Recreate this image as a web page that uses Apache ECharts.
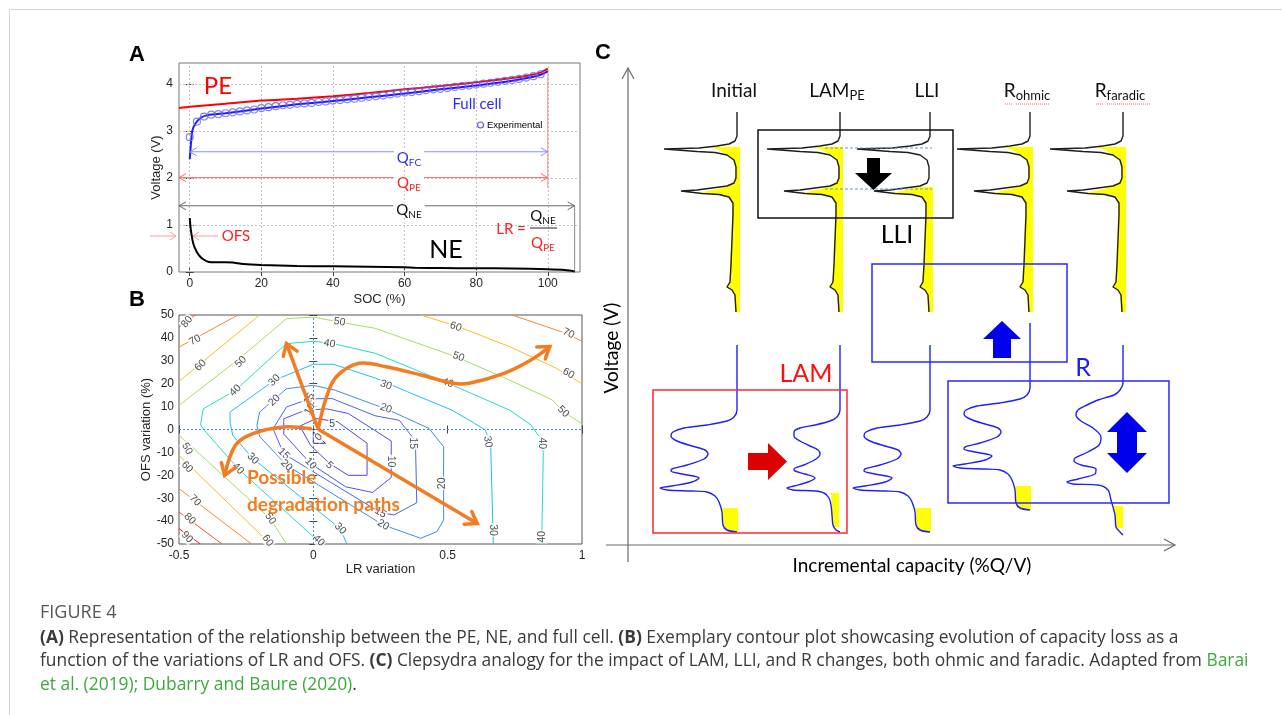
<!DOCTYPE html>
<html><head><meta charset="utf-8">
<script src="https://cdn.jsdelivr.net/npm/echarts@6/dist/echarts.min.js"></script>
<style>html,body{margin:0;padding:0;background:#fff;}#c{width:1282px;height:715px;}</style>
</head><body><div id="c"></div>
<script>
// ================= DATA =================
// ---- Panel A : voltage vs SOC ----
const aXTicks = [0, 20, 40, 60, 80, 100];
const aYTicks = [0, 1, 2, 3, 4];
const peCurve = [[-3,3.49],[0,3.52],[10,3.58],[20,3.65],[30,3.69],[40,3.74],[50,3.81],[60,3.89],[70,3.96],[80,4.04],[90,4.13],[95,4.19],[98,4.25],[100,4.33]];
const fullCell = [[0,2.4],[0.3,2.7],[0.7,3.0],[1.5,3.15],[3,3.28],[5,3.34],[10,3.38],[20,3.48],[30,3.57],[40,3.64],[50,3.72],[60,3.8],[70,3.89],[80,3.97],[90,4.07],[95,4.14],[98,4.2],[100,4.27]];
const expSOC = [0,2,4,6,8,10,12,14,16,18,20,22,24,26,28,30,32,34,36,38,40,42,44,46,48,50,52,54,56,58,60,62,64,66,68,70,72,74,76,78,80,82,84,86,88,90,92,94,96,98];
const expV   = [2.87,3.2,3.31,3.35,3.36,3.38,3.4,3.42,3.44,3.46,3.49,3.51,3.53,3.55,3.56,3.58,3.59,3.6,3.62,3.63,3.65,3.66,3.68,3.69,3.71,3.73,3.74,3.76,3.78,3.8,3.82,3.83,3.85,3.87,3.89,3.9,3.92,3.94,3.96,3.97,3.99,4.01,4.03,4.05,4.07,4.09,4.11,4.14,4.17,4.21];
const neCurve = [[0,1.15],[0.3,0.9],[1,0.6],[2,0.42],[3,0.32],[4,0.26],[5,0.22],[6,0.21],[10,0.21],[12,0.2],[15,0.17],[20,0.15],[30,0.13],[40,0.12],[50,0.11],[60,0.1],[63,0.09],[70,0.085],[80,0.08],[90,0.075],[100,0.06],[104,0.05],[106,0.03],[107.5,0.01]];
const qArrows = [[0,100,2.56],[-3,100,2.01],[-3,107.5,1.41]];   // Q_FC, Q_PE, Q_NE spans (SOC) and level (V)
const pePeakLine = [[100,4.33],[100,1.79]];
const neEndLine = [[107.5,1.41],[107.5,0]];

// ---- Panel B : contour plot ----
const contourLevels = [0,5,10,15,20,30,40,50,50,60,60,60,70,70,70,80,80,90];
const contourLines = [
  [[0,-1],[0,-6],[0.045,-6],[0,-1]],
  [[-0.05,1.5],[0.01,4.8],[0.09,3.4],[0.2,-6],[0.2,-20],[0.13,-20],[0.06,-14.8],[-0.01,-7],[-0.05,1.5]],
  [[-0.11,4.7],[-0.03,8.4],[0.05,9],[0.13,7],[0.29,-5],[0.29,-21],[0.22,-27.5],[0.12,-25],[-0.01,-14.9],[-0.11,-2],[-0.11,4.7]],
  [[-0.15,0.3],[-0.1,9.8],[-0.015,13.4],[0.07,13.5],[0.23,6],[0.32,4],[0.38,-5],[0.385,-32],[0.3,-37.3],[0.25,-36.3],[-0.11,-10.6],[-0.15,0.3]],
  [[-0.21,1.8],[-0.2,7.6],[-0.1,17.8],[0,19.3],[0.08,17.2],[0.23,10.7],[0.28,8.5],[0.43,0.5],[0.485,-7.5],[0.485,-39.5],[0.46,-44.6],[0.4,-47.5],[0.26,-41.7],[-0.1,-15.6],[-0.2,-3],[-0.21,1.8]],
  [[0.125,-50],[0.1,-43.3],[-0.225,-12.7],[-0.3,-2.5],[-0.31,3.3],[-0.31,7.6],[-0.145,21.5],[0,28.5],[0.074,28.5],[0.23,22.5],[0.35,16.5],[0.515,8.5],[0.6,2.7],[0.64,-0.2],[0.66,-6],[0.67,-50]],
  [[0.03,-50],[-0.28,-17.1],[-0.4,-1.1],[-0.42,2],[-0.41,9],[-0.29,17.1],[-0.1,37.5],[0,38.5],[0.07,37.6],[0.23,33.3],[0.5,20.3],[0.73,8.5],[0.81,2],[0.84,-3],[0.856,-10],[0.85,-50]],
  [[-0.5,10.5],[-0.28,30.5],[-0.1,48.4],[0,49.1],[0.093,47],[0.23,44.2],[0.53,31.8],[0.73,21.6],[0.89,12.9],[0.93,7.8],[1,2.5]],
  [[-0.5,-2.5],[-0.16,-38.9],[-0.1,-50]],
  [[-0.5,21],[-0.2,50]],
  [[0.4,50],[0.54,44.9],[0.73,36.2],[0.9,27],[1,20]],
  [[-0.5,-11.3],[-0.16,-50]],
  [[-0.5,36],[-0.28,50]],
  [[0.74,50],[0.94,42],[1,38.5]],
  [[-0.5,-25.8],[-0.23,-50]],
  [[-0.5,44.7],[-0.44,50]],
  [[-0.5,-36],[-0.34,-50]],
  [[-0.5,-43.3],[-0.42,-50]]
];
const contourLabels = [ // [LR, OFS, text, rotation]
  [-0.47,47,'80',50],[-0.44,39,'70',30],[-0.42,28,'60',45],[-0.27,29.5,'50',45],[-0.29,17.1,'40',45],
  [-0.145,21.5,'30',45],[-0.145,12.7,'20',45],[-0.015,13.4,'15',60],[-0.013,9,'10',60],[0.07,2.5,'5',0],
  [0.02,-3.3,'0',45],[0.097,47,'50',-10],[0.06,37.5,'40',-10],
  [-0.47,-8.4,'50',-60],[-0.47,-16.4,'60',-45],[-0.44,-31,'70',-45],[-0.46,-39,'80',-45],[-0.47,-47,'90',-45],
  [-0.225,-12.7,'30',-45],[-0.28,-17.1,'40',-45],[-0.11,-10.6,'15',-45],[-0.1,-15.6,'20',-45],
  [-0.01,-14.9,'10',-45],[0.06,-15.6,'5',-45],[-0.16,-38.9,'50',-55],[-0.17,-48.5,'60',-55],
  [0.1,-43.3,'30',-45],[0.02,-48.5,'40',-45],
  [0.53,44.9,'60',-20],[0.95,42,'70',-25],[0.54,31.8,'50',-20],[0.95,24.5,'60',-30],[0.27,19.4,'30',-20],
  [0.5,20.3,'40',-20],[0.27,9.2,'20',-20],[0.93,7.8,'50',-45],
  [0.37,-6,'15',-90],[0.65,-5.3,'30',-80],[0.85,-6,'40',-90],[0.29,-14,'10',-90],[0.48,-23.5,'20',90],
  [0.67,-43.9,'30',-90],[0.85,-46.8,'40',90],[0.25,-36.3,'15',-30],[0.26,-41.7,'20',-30]
];
const degradationPaths = [
  [[0.015,1],[-0.1,37.5]],
  [[0.02,0],[0.61,-41]],
  [[0.02,1.1],[0.047,13.5],[0.085,22.9],[0.17,28.9],[0.27,27.4],[0.4,23.8],[0.52,20.2],[0.58,20.2],[0.71,24.5],[0.81,30.3],[0.88,36.2]],
  [[-0.01,0.3],[-0.11,1.1],[-0.225,-1.8],[-0.29,-6.9],[-0.33,-20]]
];

// ---- Panel C : clepsydra IC curves  [IC offset from column base, voltage units] ----
const columnNames = ['Initial', 'LAM', 'LLI', 'R', 'R'];
const columnSubs  = ['', 'PE', '', 'ohmic', 'faradic'];
const topCurve = [[0,448],[0,424],[-2,419],[-8,416],[-20,414],[-38,412],[-73,411],[-73,409],[-40,408.5],[-22,407.5],[-10,405],[-3,400],[-1,393],[-1,382],[-3,377],[-10,374],[-25,372],[-40,370],[-56,369],[-56,367],[-35,366.5],[-18,365.5],[-8,363],[-4,357],[-4,345],[-5,320],[-6,295],[-7,278],[-10,273],[-5,270],[-2,265],[-1,248]];
const topYellow = [[-26,413],[-18,410],[-10,405],[-4,400],[-2,393],[-2,382],[-4,377],[-12,373],[-24,370],[-38,367],[-18,365],[-8,362],[-5,356],[-5,345],[-6,320],[-7,295],[-8,278],[-11,273],[-6,270],[-3,265],[-2,248]];
const bottomInitial = [[0,215],[0,150],[-3,143],[-10,139],[-30,135],[-53,132],[-64,128],[-66,124],[-60,119],[-45,114],[-32,110],[-29,106],[-33,101],[-50,95],[-65,91],[-66,89],[-55,86],[-38,82],[-45,78],[-65,74],[-77,72],[-70,70],[-45,69],[-30,68],[-22,64],[-18,58],[-15,48],[-14,35],[-10,30],[0,28]];
const bottomInitialYellow = [[-15,52],[-14,35],[-10,30],[-4,28]];
const bottomLAM = [[0,215],[0,150],[-3,143],[-10,139],[-25,135],[-40,132],[-46,128],[-46,124],[-40,119],[-30,114],[-22,110],[-20,106],[-24,101],[-36,95],[-46,91],[-45,89],[-35,86],[-25,82],[-32,78],[-46,74],[-53,72],[-47,70],[-25,69],[-16,67],[-11,62],[-9,55],[-8,45],[-7,35],[-4,30],[0,28]];
const bottomLAMYellow = [[-9,67],[-8,45],[-7,35],[-5,33]];
const bottomFaradic = [[0,215],[0,177],[-3,170],[-9,165],[-25,160],[-36,155],[-45,150],[-47,145],[-42,139],[-30,132],[-22,123],[-24,115],[-35,108],[-48,102],[-49,99],[-42,95],[-27,91],[-28,86],[-45,81],[-56,78],[-50,76],[-25,75],[-15,70],[-12,60],[-8,45],[-7,33],[-3,28],[0,25]];
const bottomFaradicYellow = [[-10,54],[-8,45],[-7,33],[-5,32]];
const ohmicShift = 22;      // voltage shift of the R_ohmic curve
const lliYellowFrom = 374;  // LLI: shaded area starts below the 2nd peak

// ================= BUILD =================
const FONT = 'Liberation Sans, Arial, sans-serif';
const CAL = 'Lato, "Open Sans", sans-serif';
const colX = [137, 240, 330, 430, 523];

const jet = {0:'#2a1f9a',5:'#5544dd',10:'#5050ee',15:'#4466f2',20:'#3b8cf2',30:'#1ec0f0',40:'#22dccc',50:'#a4e05a',60:'#f2c21e',70:'#f58a2a',80:'#f2561e',90:'#e21e1e'};

const series = [];

// --- A ---
const gridLinesA = aXTicks.map(v => ({xAxis: v})).concat(aYTicks.slice(1).map(v => ({yAxis: v})));
series.push({type:'line', xAxisIndex:0, yAxisIndex:0, data:peCurve, showSymbol:false, smooth:0.2,
  lineStyle:{color:'#ff0000', width:2}, z:3,
  markLine:{silent:true, symbol:'none', label:{show:false}, data:gridLinesA,
    lineStyle:{color:'#c4c4c4', type:[2,2], width:1}, z:1}});
series.push({type:'line', xAxisIndex:0, yAxisIndex:0, data:fullCell, showSymbol:false, smooth:0.2, lineStyle:{color:'#1a1aff', width:2}, z:4});
series.push({type:'scatter', xAxisIndex:0, yAxisIndex:0, data:expSOC.map((s,i)=>[s,expV[i]]), symbol:'circle', symbolSize:7,
  itemStyle:{color:'rgba(255,255,255,0)', borderColor:'#6262ff', borderWidth:1.2}, z:5});
series.push({type:'line', xAxisIndex:0, yAxisIndex:0, data:neCurve, showSymbol:false, smooth:0.2, lineStyle:{color:'#000', width:2}, z:3});
series.push({type:'line', xAxisIndex:0, yAxisIndex:0, data:pePeakLine, showSymbol:false, lineStyle:{color:'#ff8a8a', width:1}, z:2});
series.push({type:'line', xAxisIndex:0, yAxisIndex:0, data:neEndLine, showSymbol:false, lineStyle:{color:'#8a8a8a', width:1}, z:2});
const qColors = ['#8c8cff', '#ff6a6a', '#6a6a6a'];
series.push({type:'custom', xAxisIndex:0, yAxisIndex:0, data:qArrows, z:6, clip:false,
  renderItem:(params, api) => {
    const y = api.value(2);
    const p1 = api.coord([api.value(0), y]), p2 = api.coord([api.value(1), y]);
    const c = qColors[params.dataIndex], w = 7, h = 4;
    return {type:'group', children:[
      {type:'line', shape:{x1:p1[0], y1:p1[1], x2:p2[0], y2:p2[1]}, style:{stroke:c, lineWidth:1}},
      {type:'polyline', shape:{points:[[p1[0]+w,p1[1]-h],[p1[0],p1[1]],[p1[0]+w,p1[1]+h]]}, style:{stroke:c, fill:null, lineWidth:1}},
      {type:'polyline', shape:{points:[[p2[0]-w,p2[1]-h],[p2[0],p2[1]],[p2[0]-w,p2[1]+h]]}, style:{stroke:c, fill:null, lineWidth:1}}
    ]};
  }});

// --- B ---
contourLines.forEach((pts, i) => {
  const s = {type:'line', xAxisIndex:2, yAxisIndex:2, data:pts, showSymbol:false, smooth:false,
    lineStyle:{color:jet[contourLevels[i]], width:1}, z:2, silent:true};
  if (i === 0) {
    s.markLine = {silent:true, symbol:'none', label:{show:false}, data:[{xAxis:0},{yAxis:0}],
      lineStyle:{color:'#3a8ee6', type:[2,2], width:1}};
  }
  series.push(s);
});
series.push({type:'scatter', xAxisIndex:2, yAxisIndex:2, symbolSize:2, itemStyle:{color:'rgba(0,0,0,0)'}, z:4, silent:true,
  data:contourLabels.map(l => ({value:[l[0], l[1]], name:l[2], label:{rotate:l[3]}})),
  label:{show:true, position:'inside', formatter:'{b}', color:'#222', fontSize:10.5, fontFamily:FONT,
    backgroundColor:'#fff', padding:[0,1]},
  labelLayout:{hideOverlap:false}});
series.push({type:'custom', xAxisIndex:2, yAxisIndex:2, data:degradationPaths.map(p => p[0]), z:10, clip:false,
  renderItem:(params, api) => {
    const path = degradationPaths[params.dataIndex].map(p => api.coord(p));
    const n = path.length, a = path[n-2], b = path[n-1];
    const ang = Math.atan2(b[1]-a[1], b[0]-a[0]), L = 13, sp = 0.6;
    const h1 = [b[0]-L*Math.cos(ang-sp), b[1]-L*Math.sin(ang-sp)];
    const h2 = [b[0]-L*Math.cos(ang+sp), b[1]-L*Math.sin(ang+sp)];
    return {type:'group', children:[
      {type:'polyline', shape:{points:path, smooth:n>2 ? 0.35 : 0}, style:{stroke:'#f47b20', lineWidth:3.5, fill:null, lineCap:'round', lineJoin:'round'}},
      {type:'polyline', shape:{points:[h1,b,h2]}, style:{stroke:'#f47b20', lineWidth:3.5, fill:null, lineCap:'round', lineJoin:'miter'}}
    ]};
  }});

// --- C ---
function place(shape, cx, shift) { return shape.map(p => [cx + p[0], p[1] + shift]); }
function yellowPoly(boundary, cx, shift, rightDx) {
  const pts = place(boundary, cx, shift);
  const first = pts[0], last = pts[pts.length-1];
  return pts.concat([[cx + rightDx, last[1]], [cx + rightDx, first[1]]]);
}
const yellowPolys = [];
colX.forEach((cx, i) => {
  const src = i === 2 ? topYellow.filter(p => p[1] <= lliYellowFrom) : topYellow;
  yellowPolys.push(yellowPoly(src, cx, 0, 3));
  series.push({type:'line', xAxisIndex:4, yAxisIndex:4, data:place(topCurve, cx, 0), showSymbol:false,
    lineStyle:{color:'#1e1e1e', width:1.4}, z:5, silent:true});
});
const bottomShapes = [[bottomInitial, bottomInitialYellow, 0, 1],[bottomLAM, bottomLAMYellow, 0, -1],[bottomInitial, bottomInitialYellow, 0, 1],[bottomInitial, bottomInitialYellow, ohmicShift, 1],[bottomFaradic, bottomFaradicYellow, 0, 0]];
bottomShapes.forEach((b, i) => {
  yellowPolys.push(yellowPoly(b[1], colX[i], b[2], b[3]));
  series.push({type:'line', xAxisIndex:4, yAxisIndex:4, data:place(b[0], colX[i], b[2]), showSymbol:false, smooth:0.3,
    lineStyle:{color:'#1f1fff', width:1.4}, z:5, silent:true});
});
series.push({type:'custom', xAxisIndex:4, yAxisIndex:4, data:yellowPolys.map(p => p[0]), z:3, clip:false, silent:true,
  renderItem:(params, api) => ({type:'polygon', shape:{points:yellowPolys[params.dataIndex].map(p => api.coord(p))},
    style:{fill:'#ffff00', stroke:null}})});

// ================= GRAPHIC (annotations) =================
function T(x, y, text, o) {
  return {type:'text', x, y, z:100, silent:true, style:Object.assign({text, fill:'#000', fontSize:14, fontFamily:CAL, align:'center', verticalAlign:'middle'}, o || {})};
}
function L(pts, stroke, w, dash) {
  return {type:'polyline', z:90, silent:true, shape:{points:pts}, style:{stroke, lineWidth:w || 1, fill:null, lineDash:dash || null}};
}
function P(pts, fill) { return {type:'polygon', z:95, silent:true, shape:{points:pts}, style:{fill}}; }
function R(x, y, w, h, stroke, lw) { return {type:'rect', z:92, silent:true, shape:{x, y, width:w, height:h}, style:{fill:null, stroke, lineWidth:lw || 1.5}}; }
function sub(main, s, size, col, extra) {
  return T(0, 0, '{m|' + main + '}{s|' + s + '}', Object.assign({fill:col, rich:{
    m:{fontSize:size, fontFamily:CAL, fill:col},
    s:{fontSize:Math.round(size*0.68), fontFamily:CAL, fill:col, verticalAlign:'bottom', padding:[0,0,-2,0]}}}, extra || {}));
}
function at(el, x, y) { el.x = x; el.y = y; return el; }

const g = [];
g.push({type:'rect', z:-1, silent:true, shape:{x:9.5, y:9.5, width:1400, height:900}, style:{fill:null, stroke:'#d4d4d4', lineWidth:1}});
// panel letters
g.push(T(137, 55, 'A', {fontSize:22, fontWeight:'bold', fontFamily:FONT}));
g.push(T(137, 300, 'B', {fontSize:22, fontWeight:'bold', fontFamily:FONT}));
g.push(T(603, 53, 'C', {fontSize:22, fontWeight:'bold', fontFamily:FONT}));
// panel A annotations
g.push(T(218, 86, 'PE', {fill:'#ff0000', fontSize:24}));
g.push(T(477, 104, 'Full cell', {fill:'#2a2aff', fontSize:15}));
g.push({type:'circle', z:100, silent:true, shape:{cx:480.5, cy:125, r:3}, style:{fill:null, stroke:'#5a5aff', lineWidth:1.2}});
g.push(T(487, 125.5, 'Experimental', {fontSize:9.5, fontFamily:FONT, align:'left'}));
g.push(at(sub('Q', 'FC', 15, '#3030ff', {backgroundColor:'#fff', padding:[0,3]}), 409, 158));
g.push(at(sub('Q', 'PE', 15, '#ff2020', {backgroundColor:'#fff', padding:[0,3]}), 409, 183));
g.push(at(sub('Q', 'NE', 15, '#111', {backgroundColor:'#fff', padding:[0,3]}), 409, 210));
g.push(T(236, 236, 'OFS', {fill:'#ff2020', fontSize:15}));
g.push(L([[150,236],[176,236]], '#ff9a9a', 1)); g.push(L([[170,232],[176,236],[170,240]], '#ff9a9a', 1));
g.push(L([[193,236],[218,236]], '#ff9a9a', 1)); g.push(L([[199,232],[193,236],[199,240]], '#ff9a9a', 1));
g.push(T(446, 250, 'NE', {fontSize:25}));
g.push(T(511, 229, 'LR =', {fill:'#ff2020', fontSize:15}));
g.push(at(sub('Q', 'NE', 15, '#111'), 543, 216));
g.push(L([[530,228],[557,228]], '#222', 1));
g.push(at(sub('Q', 'PE', 15, '#ff2020'), 543, 243));
// panel B text
g.push(T(247, 478, 'Possible', {fill:'#f47b20', fontSize:19, fontWeight:'bold', align:'left'}));
g.push(T(247, 505, 'degradation paths', {fill:'#f47b20', fontSize:19, fontWeight:'bold', align:'left'}));
// panel C axes
g.push(L([[628,562],[628,68]], '#6a6a6a', 1.2)); g.push(L([[622,79],[628,68],[634,79]], '#6a6a6a', 1.2));
g.push(L([[606,545],[1175,545]], '#6a6a6a', 1.2)); g.push(L([[1164,539],[1175,545],[1164,551]], '#6a6a6a', 1.2));
const vt = T(612, 348, 'Voltage (V)', {fontSize:19}); vt.rotation = Math.PI/2; g.push(vt);
g.push(T(912, 566, 'Incremental capacity (%Q/V)', {fontSize:19}));
// column labels
columnNames.forEach((n, i) => {
  const x = 600 + colX[i] - 3;
  if (columnSubs[i]) g.push(at(sub(n, columnSubs[i], 19, '#111'), x, 91));
  else g.push(T(x, 91, n, {fontSize:19, fill:'#111'}));
});
// red spell-check squiggles under R_ohmic / R_faradic
g.push(L([[1005,104],[1013,104]], '#ff6060', 1, [1,1]));
g.push(L([[1016,104],[1050,104]], '#ff6060', 1, [1,1]));
g.push(L([[1096,104],[1104,104]], '#ff6060', 1, [1,1]));
g.push(L([[1107,104],[1150,104]], '#ff6060', 1, [1,1]));
// boxes, arrows, labels in C
g.push(R(758, 130, 195, 88, '#111', 1.5));
g.push(L([[825,148],[932,148]], '#5b9bd5', 1, [3,2]));
g.push(L([[825,189],[932,189]], '#5b9bd5', 1, [3,2]));
g.push(P([[867,158],[880,158],[880,173],[892,173],[873.5,190],[855,173],[867,173]], '#000'));
g.push(T(897, 235, 'LLI', {fontSize:25}));
g.push(R(872, 264, 195, 98, '#2a2aff', 1.5));
g.push(P([[1002,321],[1021,339],[1011,339],[1011,358],[993,358],[993,339],[983,339]], '#0000ee'));
g.push(R(653, 390, 194, 143, '#ff2a2a', 1.5));
g.push(T(806, 374, 'LAM', {fontSize:25, fill:'#ff1010'}));
g.push(P([[748,453],[768,453],[768,443],[787,461.5],[768,480],[768,470],[748,470]], '#dd0000'));
g.push(R(948, 381, 221, 122, '#2a2aff', 1.5));
g.push(T(1083, 368, 'R', {fontSize:25, fill:'#1a1aff'}));
g.push(P([[1127,412],[1147,432],[1137,432],[1137,453],[1147,453],[1127,473],[1107,453],[1117,453],[1117,432],[1107,432]], '#0000ee'));
// caption
const CF = '"Open Sans", "Noto Sans", sans-serif';
const CS = 17.4;
const rc = {b:{fontWeight:'bold', fontSize:CS, fontFamily:CF, fill:'#3a3a3a'}, g:{fontSize:CS, fontFamily:CF, fill:'#3daa3d'}};
g.push(T(40, 613, 'FIGURE 4', {fontSize:18, fontFamily:CF, fill:'#555', align:'left'}));
g.push(T(40, 638, '{b|(A)} Representation of the relationship between the PE, NE, and full cell. {b|(B)} Exemplary contour plot showcasing evolution of capacity loss as a', {fontSize:CS, fontFamily:CF, fill:'#3a3a3a', align:'left', rich:rc}));
g.push(T(40, 661, 'function of the variations of LR and OFS. {b|(C)} Clepsydra analogy for the impact of LAM, LLI, and R changes, both ohmic and faradic. Adapted from {g|Barai}', {fontSize:CS, fontFamily:CF, fill:'#3a3a3a', align:'left', rich:rc}));
g.push(T(40, 685, '{g|et al. (2019); Dubarry and Baure (2020)}.', {fontSize:CS, fontFamily:CF, fill:'#3a3a3a', align:'left', rich:rc}));

// ================= AXES =================
const tickStyle = {inside:true, length:4, lineStyle:{color:'#444'}};
const lbl = {color:'#262626', fontSize:12, fontFamily:FONT};
const nameStyle = {color:'#262626', fontSize:13, fontFamily:FONT};
const option = {
  animation:false,
  backgroundColor:'#fff',
  grid:[
    {left:179, top:63, width:401, height:209, show:true, borderColor:'#777', borderWidth:1, backgroundColor:'transparent'},
    {left:179, top:315, width:403, height:229, show:true, borderColor:'#555', borderWidth:1, backgroundColor:'transparent'},
    {left:600, top:50, width:580, height:530, show:false}
  ],
  xAxis:[
    {type:'value', gridIndex:0, min:-3, max:109, axisLine:{show:false}, splitLine:{show:false},
      axisTick:Object.assign({customValues:aXTicks}, tickStyle), axisLabel:Object.assign({customValues:aXTicks, margin:6}, lbl),
      name:'SOC (%)', nameLocation:'middle', nameGap:21, nameTextStyle:nameStyle},
    {type:'value', gridIndex:0, position:'top', min:-3, max:109, axisLine:{show:false}, splitLine:{show:false},
      axisTick:Object.assign({customValues:aXTicks}, tickStyle), axisLabel:{show:false}},
    {type:'value', gridIndex:1, min:-0.5, max:1, interval:0.5, axisLine:{show:false}, splitLine:{show:false},
      axisTick:tickStyle, axisLabel:Object.assign({margin:6}, lbl),
      name:'LR variation', nameLocation:'middle', nameGap:18, nameTextStyle:nameStyle},
    {type:'value', gridIndex:1, position:'top', min:-0.5, max:1, interval:0.5, axisLine:{show:false}, splitLine:{show:false},
      axisTick:tickStyle, axisLabel:{show:false}},
    {type:'value', gridIndex:2, min:0, max:580, show:false}
  ],
  yAxis:[
    {type:'value', gridIndex:0, min:0, max:4.45, axisLine:{show:false}, splitLine:{show:false},
      axisTick:Object.assign({customValues:aYTicks}, tickStyle), axisLabel:Object.assign({customValues:aYTicks, margin:6}, lbl),
      name:'Voltage (V)', nameLocation:'middle', nameGap:14, nameTextStyle:nameStyle},
    {type:'value', gridIndex:0, position:'right', min:0, max:4.45, axisLine:{show:false}, splitLine:{show:false},
      axisTick:Object.assign({customValues:aYTicks}, tickStyle), axisLabel:{show:false}},
    {type:'value', gridIndex:1, min:-50, max:50, interval:10, axisLine:{show:false}, splitLine:{show:false},
      axisTick:tickStyle, axisLabel:Object.assign({margin:5}, lbl),
      name:'OFS variation (%)', nameLocation:'middle', nameGap:24, nameTextStyle:nameStyle},
    {type:'value', gridIndex:1, position:'right', min:-50, max:50, interval:10, axisLine:{show:false}, splitLine:{show:false},
      axisTick:tickStyle, axisLabel:{show:false}},
    {type:'value', gridIndex:2, min:-20, max:510, show:false}
  ],
  series,
  graphic:{elements:g}
};
const chart = echarts.init(document.getElementById('c'));
chart.setOption(option);
</script></body></html>
